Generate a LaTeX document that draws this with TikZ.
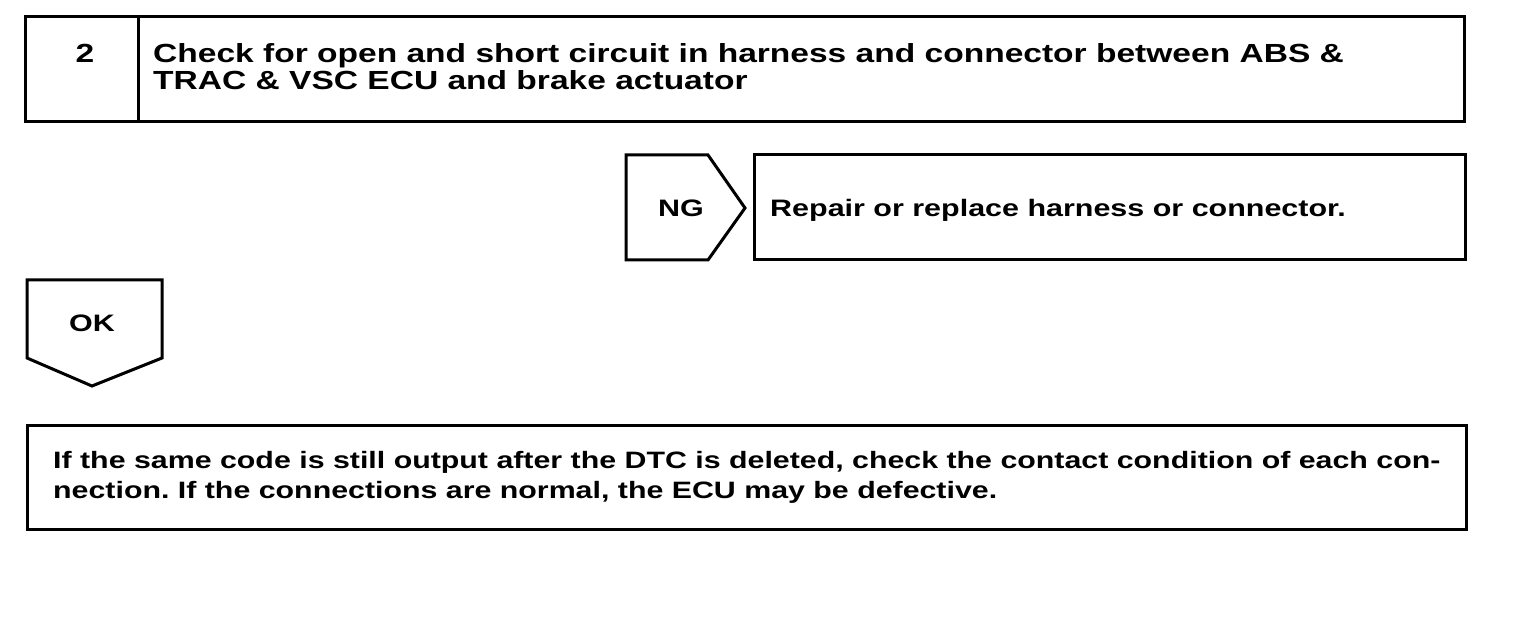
\documentclass[tikz,border=0pt]{standalone}
\usepackage{fontspec}
\setmainfont{Liberation Sans}[FakeStretch=1.28]
\usetikzlibrary{calc}
\frenchspacing
\tikzset{
	frame/.style={line width=3pt, line join=miter},
	label/.style={font=\bfseries\fontsize{23.8}{30}\selectfont, inner sep=0pt, anchor=base west, align=left},
	biglabel/.style={label, font=\bfseries\fontsize{26.2}{27}\selectfont},
	notelabel/.style={label, font=\bfseries\fontsize{23.7}{30}\selectfont}
}

\begin{document}
\begin{tikzpicture}[x=1pt, y=-1pt]
				\useasboundingbox (0,0) rectangle (1536,644);
				
				\draw[frame] (25,17) rectangle (1464,122);
				\draw[frame] (138,17) -- (138,122);
				\node[biglabel, anchor=base] (stepno) at (85,63) {2};
				\node[biglabel] (checktext) at (153,90) {Check for open and short circuit in harness and connector between ABS \&\\TRAC \& VSC ECU and brake actuator};
				
				\draw[frame] (626,155) -- (708,155) -- (745,208) -- (708,260) -- (626,260) -- cycle;
				\node[label, anchor=base] (ng) at (681,217) {NG};
				\draw[frame] (754,155) rectangle (1465,260);
				\node[label] (repair) at (770,217) {Repair or replace harness or connector.};
				
				\draw[frame] (27,280) -- (162,280) -- (162,358) -- (92,386) -- (27,358) -- cycle;
				\node[label, anchor=base] (ok) at (92,331) {OK};
				
				\draw[frame] (27,425) rectangle (1466,529);
				\node[notelabel] (note) at (53,498) {If the same code is still output after the DTC is deleted, check the contact condition of each con-\\nection. If the connections are normal, the ECU may be defective.};
			\end{tikzpicture}
\end{document}
